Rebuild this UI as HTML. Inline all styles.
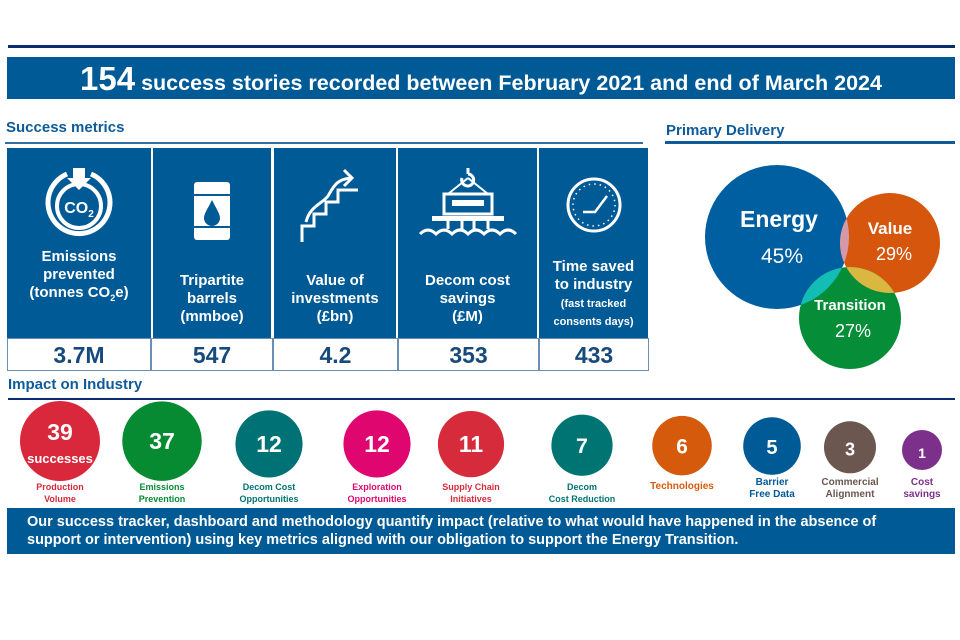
<!DOCTYPE html>
<html><head><meta charset="utf-8"><style>
body{margin:0;width:960px;height:640px;background:#fff;font-family:"Liberation Sans",sans-serif;position:relative;overflow:hidden}
.abs{position:absolute}
.cell{position:absolute;top:148px;height:190px;background:#005a96;color:#fff;text-align:center;font-weight:bold}
.val{position:absolute;top:338px;height:33px;border:1px solid #6a8fb5;background:#fff;color:#174a7c;font-weight:bold;font-size:23px;text-align:center;line-height:33px;box-sizing:border-box}
.lbl{position:absolute;left:0;right:0;font-size:15px;line-height:18px}
svg text{font-family:"Liberation Sans",sans-serif}
</style></head><body>
<div class="abs" style="left:8px;top:45px;width:947px;height:3px;background:#0a2d6e"></div>
<div class="abs" style="left:7px;top:57px;width:948px;height:42px;background:#005a96;color:#fff;font-weight:bold;text-align:center;line-height:44px;font-size:21.5px"><span style="font-size:33px">154</span> success stories recorded between February 2021 and end of March 2024</div>

<div class="abs" style="left:6px;top:119px;font-size:15px;font-weight:bold;color:#0f5b99">Success metrics</div>
<div class="abs" style="left:5px;top:142px;width:638px;height:2px;background:#2f6ea3"></div>

<div class="cell" style="left:7px;width:144px">
<svg class="abs" style="left:36px;top:18px" width="72" height="72" viewBox="0 0 72 72"><path d="M24 8 A31 31 0 1 0 48 8" fill="none" stroke="#fff" stroke-width="5"/><circle cx="36" cy="40" r="22" fill="none" stroke="#fff" stroke-width="4"/><path d="M30 2 h12 v10 h6 l-12 12 l-12 -12 h6z" fill="#fff"/><text x="36" y="47" fill="#fff" font-size="16" font-weight="bold" text-anchor="middle">CO<tspan font-size="10" dy="4">2</tspan></text></svg>
<div class="lbl" style="top:100px">Emissions<br>prevented<br>(tonnes CO<sub style="font-size:9px">2</sub>e)</div></div>
<div class="cell" style="left:153px;width:118px">
<svg class="abs" style="left:38px;top:32px" width="42" height="62" viewBox="0 0 42 62"><rect x="3" y="2" width="36" height="58" rx="3" fill="#fff"/><rect x="3" y="14" width="36" height="2" fill="#005a96"/><rect x="3" y="46" width="36" height="2" fill="#005a96"/><path d="M21 20 C16 30 13 34 13 38 a8 8 0 0 0 16 0 C29 34 26 30 21 20z" fill="#005a96"/></svg>
<div class="lbl" style="top:124px">Tripartite<br>barrels<br>(mmboe)</div></div>
<div class="cell" style="left:274px;width:122px">
<svg class="abs" style="left:26px;top:18px" width="70" height="78" viewBox="0 0 70 78"><path d="M2 76 V60 H14 V48 H26 V36 H38 V24 H58" fill="none" stroke="#fff" stroke-width="3"/><path d="M6 56 C10 40 22 38 28 30 C34 20 36 14 50 12" fill="none" stroke="#fff" stroke-width="3"/><path d="M44 4 L52 12 L44 20" fill="none" stroke="#fff" stroke-width="3"/></svg>
<div class="lbl" style="top:124px">Value of<br>investments<br>(£bn)</div></div>
<div class="cell" style="left:398px;width:139px">
<svg class="abs" style="left:20px;top:18px" width="100" height="72" viewBox="0 0 100 72"><path d="M50 2 v6 M44 12 a6 6 0 1 0 6 -4" stroke="#fff" stroke-width="3" fill="none"/><path d="M50 12 L30 28 M50 12 L70 28" stroke="#fff" stroke-width="2"/><rect x="26" y="28" width="48" height="20" fill="none" stroke="#fff" stroke-width="3"/><rect x="34" y="34" width="32" height="6" fill="#fff"/><rect x="14" y="50" width="72" height="5" fill="#fff"/><path d="M30 55 v8 M44 55 v8 M56 55 v8 M70 55 v8" stroke="#fff" stroke-width="3"/><path d="M2 68 q8 -8 16 0 q8 -8 16 0 q8 -8 16 0 q8 -8 16 0 q8 -8 16 0 q8 -8 16 0" fill="none" stroke="#fff" stroke-width="3"/></svg>
<div class="lbl" style="top:124px">Decom cost<br>savings<br>(£M)</div></div>
<div class="cell" style="left:539px;width:109px">
<svg class="abs" style="left:26px;top:28px" width="58" height="58" viewBox="0 0 58 58"><circle cx="29" cy="29" r="26" fill="none" stroke="#fff" stroke-width="3"/><circle cx="29" cy="29" r="21" fill="none" stroke="#fff" stroke-width="1.5" stroke-dasharray="1.5 4"/><path d="M18 36 H30 L42 20" fill="none" stroke="#fff" stroke-width="2.5"/></svg>
<div class="lbl" style="top:110px">Time saved<br>to industry<br><span style="font-size:11px;line-height:15px">(fast tracked<br>consents days)</span></div></div>
<div class="val" style="left:7px;width:144px">3.7M</div>
<div class="val" style="left:151px;width:122px">547</div>
<div class="val" style="left:273px;width:125px">4.2</div>
<div class="val" style="left:398px;width:141px">353</div>
<div class="val" style="left:539px;width:110px">433</div>

<div class="abs" style="left:666px;top:122px;font-size:15px;font-weight:bold;color:#0f5b99">Primary Delivery</div>
<div class="abs" style="left:665px;top:141px;width:290px;height:3px;background:#0f5b99"></div>
<svg class="abs" style="left:660px;top:150px" width="300" height="230">
<defs><clipPath id="ce"><circle cx="117" cy="87" r="72"/></clipPath><clipPath id="cv"><circle cx="230" cy="93" r="50"/></clipPath></defs>
<circle cx="117" cy="87" r="72" fill="#005fa0"/>
<circle cx="230" cy="93" r="50" fill="#d5560c"/>
<circle cx="190" cy="168" r="51" fill="#058d38"/>
<circle cx="230" cy="93" r="50" fill="#d499a8" clip-path="url(#ce)"/>
<circle cx="190" cy="168" r="51" fill="#13bdb5" clip-path="url(#ce)"/>
<circle cx="190" cy="168" r="51" fill="#d9b740" clip-path="url(#cv)"/>
<text x="119" y="77" fill="#fff" font-size="23" font-weight="bold" text-anchor="middle">Energy</text>
<text x="122" y="113" fill="#fff" font-size="21" text-anchor="middle">45%</text>
<text x="230" y="84" fill="#fff" font-size="17" font-weight="bold" text-anchor="middle">Value</text>
<text x="234" y="110" fill="#fff" font-size="18" text-anchor="middle">29%</text>
<text x="190" y="160" fill="#fff" font-size="15" font-weight="bold" text-anchor="middle">Transition</text>
<text x="193" y="187" fill="#fff" font-size="18" text-anchor="middle">27%</text>
</svg>

<div class="abs" style="left:8px;top:376px;font-size:15px;font-weight:bold;color:#0f5b99">Impact on Industry</div>
<div class="abs" style="left:8px;top:398px;width:947px;height:2px;background:#0a2d6e"></div>
<svg id="impact" class="abs" style="left:0;top:400px" width="960" height="108"></svg>

<div class="abs" style="left:7px;top:508px;width:948px;height:46px;background:#005a96;color:#fff;font-weight:bold;font-size:14.5px;line-height:18px;padding:5px 36px 0 20px;box-sizing:border-box">Our success tracker, dashboard and methodology quantify impact (relative to what would have happened in the absence of support or intervention) using key metrics aligned with our obligation to support the Energy Transition.</div>

<script>
const categories=["Production|Volume","Emissions|Prevention","Decom Cost|Opportunities","Exploration|Opportunities","Supply Chain|Initiatives","Decom|Cost Reduction","Technologies","Barrier|Free Data","Commercial|Alignment","Cost|savings"];
const counts=[39,37,12,12,11,7,6,5,3,1];
const colors=["#d9283b","#078b32","#007275","#e0066f","#d62b3a","#007373","#d55a0c","#005a96","#6b5750","#7d2f8c"];
const centersX=[60,162,269,377,471,582,682,772,850,922];
const svg=document.getElementById('impact');
const NS='http://www.w3.org/2000/svg';
function rScale(v){return 20+20*Math.log(v)/Math.log(39);}
counts.forEach((v,i)=>{
 const r=rScale(v), cx=centersX[i], cy=50-(r-20)*0.45;
 const c=document.createElementNS(NS,'circle');
 
 
 c.setAttribute('cx',cx);c.setAttribute('cy',cy);c.setAttribute('r',r);c.setAttribute('fill',colors[i]);svg.appendChild(c);
 const t=document.createElementNS(NS,'text');
 
 
 t.setAttribute('x',cx);t.setAttribute('y',i==0?cy-1:cy+8);t.setAttribute('fill','#fff');t.setAttribute('font-size',Math.min(23,r*0.7));t.setAttribute('font-weight','bold');t.setAttribute('text-anchor','middle');t.textContent=v;svg.appendChild(t);
 if(i==0){const s=document.createElementNS(NS,'text');
 
 
 s.setAttribute('x',cx);s.setAttribute('y',cy+22);s.setAttribute('fill','#fff');s.setAttribute('font-size','13');s.setAttribute('font-weight','bold');s.setAttribute('text-anchor','middle');s.textContent='successes';svg.appendChild(s);}
 const lines=categories[i].split('|');
 lines.forEach((ln,j)=>{const l=document.createElementNS(NS,'text');
 
 
 const base=lines.length==1?89:(i>=7?85:90);
 l.setAttribute('x',cx);l.setAttribute('y',base+j*12);l.setAttribute('fill',colors[i]);l.setAttribute('font-size',i>=6?'10':'9');l.setAttribute('font-weight','bold');l.setAttribute('text-anchor','middle');l.textContent=ln;svg.appendChild(l);});
});
</script>
</body></html>
